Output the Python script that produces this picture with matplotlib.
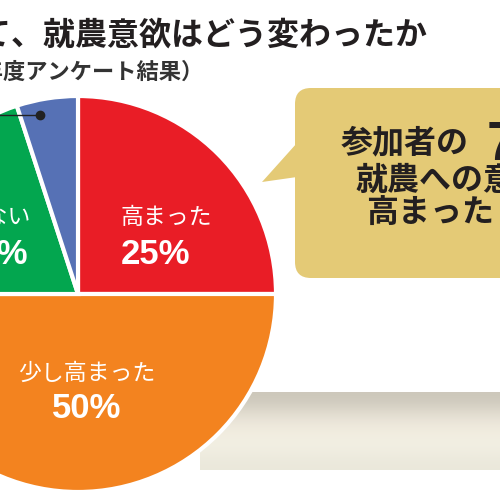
import numpy as np
import matplotlib.pyplot as plt
from matplotlib.patches import FancyBboxPatch, Polygon

plt.rcParams['font.family'] = ['Liberation Sans', 'Noto Sans CJK JP', 'DejaVu Sans']

# data
labels = ["高まった", "少し高まった", "変わらない", "低くなった"]
values = [25, 50, 20, 5]
colors = ["#E91D26", "#F3831F", "#03A64F", "#5671B5"]

title = "体験を通じて、就農意欲はどう変わったか"
subtitle = "（2023年度アンケート結果）"
callout = ["参加者の", "就農への意欲が", "高まった！"]
callout_num = "75%が"

fig = plt.figure(figsize=(5, 5), dpi=100)
ax = fig.add_axes([0, 0, 1, 1])

# gradient band at bottom
grad = np.array([[0.80, 0.78, 0.73], [0.90, 0.88, 0.83], [0.95, 0.93, 0.88],
                 [0.95, 0.94, 0.89], [0.92, 0.91, 0.86]])
ax.imshow(grad[:, None, :], extent=(200, 500, 470, 392), aspect='auto', zorder=0,
          interpolation='bicubic')

# pie
ax.pie(values, colors=colors, startangle=-90, counterclock=True,
       center=(78, 294), radius=198,
       wedgeprops=dict(edgecolor='white', linewidth=3))

ax.set_xlim(0, 500)
ax.set_ylim(500, 0)
ax.set_aspect('equal')
ax.axis('off')

# labels on slices
ax.text(121, 218, labels[0], color='white', fontsize=16.5, ha='left', va='center')
ax.text(121, 254, "25%", color='white', fontsize=25, fontweight='bold', ha='left', va='center')
ax.text(87, 373, labels[1], color='white', fontsize=16.5, ha='center', va='center')
ax.text(87, 409, "50%", color='white', fontsize=25, fontweight='bold', ha='center', va='center')
ax.text(30, 218, labels[2], color='white', fontsize=16.5, ha='right', va='center')
ax.text(28, 254, "20%", color='white', fontsize=25, fontweight='bold', ha='right', va='center')

# leader line for small slice
ax.plot([-20, 40], [115, 115], color='#222222', lw=1, zorder=5)
ax.plot([40], [115], 'o', color='#222222', ms=6, zorder=5)

# title
ax.text(428, 36, title, fontsize=23, fontweight='bold', color='#231F20', ha='right', va='center')
ax.text(204, 73, subtitle, fontsize=16, fontweight='bold', color='#333333', ha='right', va='center')

# callout box
box = FancyBboxPatch((295, 88), 260, 190, boxstyle="round,pad=0,rounding_size=16",
                     fc="#E4CA76", ec='none', zorder=2)
ax.add_patch(box)
ax.add_patch(Polygon([(297, 143), (262, 182), (297, 177)], closed=True,
                     fc="#E4CA76", ec='none', zorder=2))
ax.text(341, 144, callout[0], fontsize=23, fontweight='bold', color='#231F20', ha='left', va='center', zorder=3)
ax.text(487, 160, callout_num, fontsize=40, fontweight='bold', color='#231F20', ha='left', va='baseline', zorder=3)
ax.text(355, 181, callout[1], fontsize=23, fontweight='bold', color='#231F20', ha='left', va='center', zorder=3)
ax.text(366, 215, callout[2], fontsize=23, fontweight='bold', color='#231F20', ha='left', va='center', zorder=3)

fig.savefig("out.png", dpi=100)
